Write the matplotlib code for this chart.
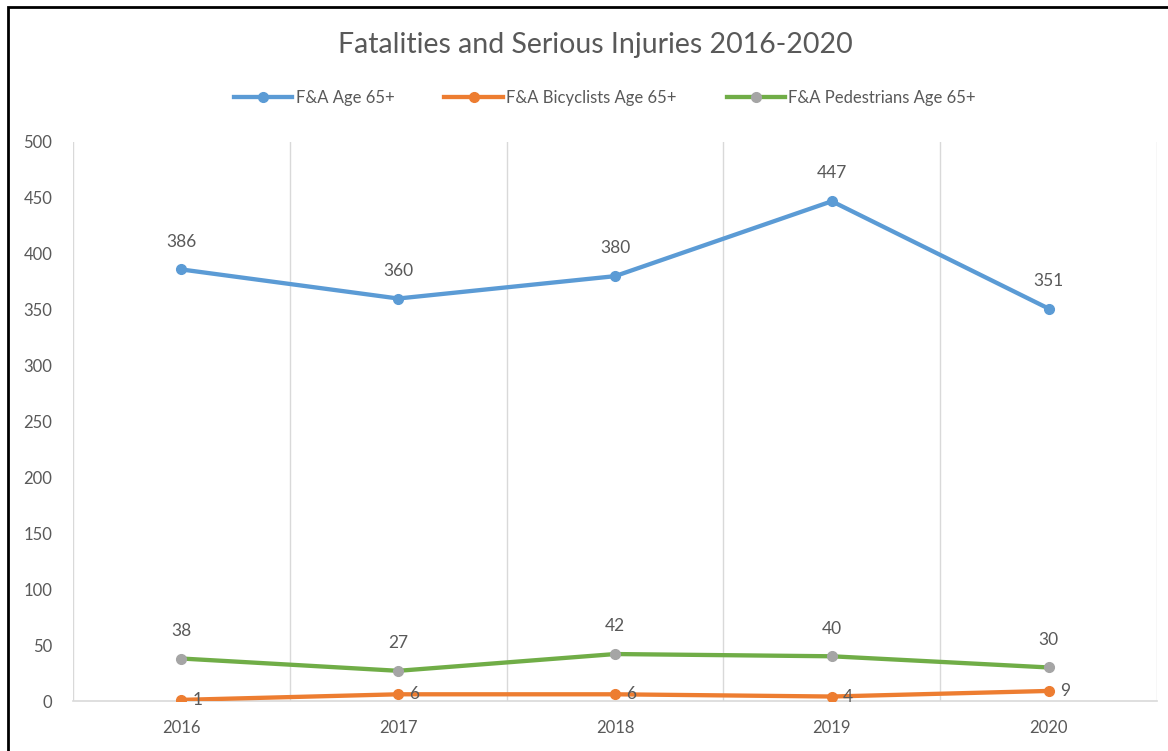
import matplotlib.pyplot as plt
from matplotlib.patches import Rectangle
from matplotlib.lines import Line2D

years = ['2016', '2017', '2018', '2019', '2020']
age65 = [386, 360, 380, 447, 351]
bike65 = [1, 6, 6, 4, 9]
ped65 = [38, 27, 42, 40, 30]

plt.rcParams['font.family'] = ['Lato', 'DejaVu Sans']
txt = '#595959'

fig = plt.figure(figsize=(11.68, 7.51), dpi=100)
fig.patches.append(Rectangle((8 / 1168, -0.1), 1.2, 1.1 - 7 / 751, transform=fig.transFigure,
                             fill=False, edgecolor='black', linewidth=2))
ax = fig.add_axes([73 / 1168, 1 - 701 / 751, (1157 - 73) / 1168, (701 - 142) / 751])

x = list(range(len(years)))
ax.plot(x, age65, color='#5B9BD5', lw=3.1, marker='o', ms=7, zorder=3)
ax.plot(x, bike65, color='#ED7D31', lw=3.1, marker='o', ms=7, zorder=3)
ax.plot(x, ped65, color='#70AD47', lw=3.1, marker='o', ms=7,
        mfc='#A5A5A5', mec='#A5A5A5', zorder=3)

for i in x:
    ax.annotate(str(age65[i]), (i, age65[i]), xytext=(0, 20), textcoords='offset points',
                ha='center', va='center', fontsize=12.5, color=txt)
    ax.annotate(str(ped65[i]), (i, ped65[i]), xytext=(0, 20), textcoords='offset points',
                ha='center', va='center', fontsize=12.5, color=txt)
    ax.annotate(str(bike65[i]), (i, bike65[i]), xytext=(8, 0), textcoords='offset points',
                ha='left', va='center', fontsize=12.5, color=txt)

ax.set_xlim(-0.5, len(years) - 0.5)
ax.set_ylim(0, 500)
ax.set_yticks(range(0, 501, 50))
ax.set_xticks(x)
ax.set_xticklabels(years)
for b in [i + 0.5 for i in x]:
    ax.axvline(b, color='#D9D9D9', lw=1, zorder=1)
ax.axvline(-0.5, color='#D9D9D9', lw=1, zorder=1)

for s in ['top', 'right', 'left']:
    ax.spines[s].set_visible(False)
ax.spines['bottom'].set_color('#D9D9D9')
ax.spines['bottom'].set_linewidth(1.2)
ax.tick_params(axis='both', length=0, labelsize=12, labelcolor=txt)
ax.tick_params(axis='x', pad=14)
ax.tick_params(axis='y', pad=15)

fig.text(595 / 1168, 1 - 45 / 751, 'Fatalities and Serious Injuries 2016-2020', ha='center', va='center',
         fontsize=20.5, color=txt)

handles = [Line2D([], [], color='#5B9BD5', lw=3.1, marker='o', ms=7),
           Line2D([], [], color='#ED7D31', lw=3.1, marker='o', ms=7),
           Line2D([], [], color='#70AD47', lw=3.1, marker='o', ms=7, mfc='#A5A5A5', mec='#A5A5A5')]
fig.legend(handles, ['F&A Age 65+', 'F&A Bicyclists Age 65+', 'F&A Pedestrians Age 65+'],
           loc='center', bbox_to_anchor=(605 / 1168, 1 - 98 / 751), ncol=3, frameon=False,
           fontsize=12, labelcolor=txt, handlelength=3.5, handletextpad=0.2, columnspacing=3.0)

fig.savefig('out.png', dpi=100)
